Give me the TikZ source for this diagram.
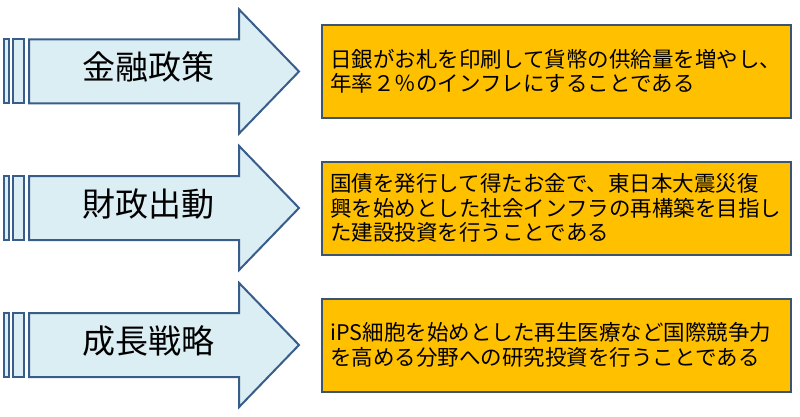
\documentclass[tikz,border=0pt]{standalone}
\usepackage{fontspec}
\newfontfamily\jp{Noto Sans CJK JP}
\usetikzlibrary{shapes.arrows, positioning}
\definecolor{shaftfill}{RGB}{219,238,244}
\definecolor{shaftline}{RGB}{56,93,138}
\definecolor{notefill}{RGB}{255,192,0}
\definecolor{noteline}{RGB}{60,84,112}
\tikzstyle{bigarrow} = [single arrow, 
			draw = shaftline, 
			fill = shaftfill, 
			line width = 2pt, 
			minimum height = 270pt, 
			single arrow head extend = 30pt, 
			single arrow tip angle = 92, 
			text height = 24pt, text depth = 8pt, 
			inner ysep = 15pt, 
			font = \jp\fontsize{33pt}{36pt}\selectfont]
\tikzstyle{stripe} = [rectangle, 
			draw = shaftline, 
			fill = shaftfill, 
			line width = 2pt, 
			inner sep = 0pt, 
			minimum height = 64pt]
\tikzstyle{note} = [rectangle, 
			draw = noteline, 
			fill = notefill, 
			line width = 2pt, 
			minimum width = 469pt, 
			minimum height = 93pt, 
			inner xsep = 7pt, 
			text width = 453pt, 
			align = left, 
			font = \jp\fontsize{21.5pt}{24.5pt}\selectfont]

\begin{document}
\begin{tikzpicture}[x=1pt, y=1pt]
	\useasboundingbox (0,0) rectangle (800,-417);
	\node [bigarrow, anchor=tail] (monetary) at (28,-71.5) {金融政策};
	\node [stripe, minimum width=11pt, left=3pt of monetary.tail] (monetary-s2) {};
	\node [stripe, minimum width=5pt, left=2.5pt of monetary-s2] (monetary-s1) {};
	\node [note, right=21pt of monetary.tip] (monetary-note) {日銀がお札を印刷して貨幣の供給量を増やし、\\年率２％のインフレにすることである};
	\node [bigarrow, anchor=tail] (fiscal) at (28,-208) {財政出動};
	\node [stripe, minimum width=11pt, left=3pt of fiscal.tail] (fiscal-s2) {};
	\node [stripe, minimum width=5pt, left=2.5pt of fiscal-s2] (fiscal-s1) {};
	\node [note, right=21pt of fiscal.tip] (fiscal-note) {国債を発行して得たお金で、東日本大震災復\\興を始めとした社会インフラの再構築を目指し\\た建設投資を行うことである};
	\node [bigarrow, anchor=tail] (growth) at (28,-345) {成長戦略};
	\node [stripe, minimum width=11pt, left=3pt of growth.tail] (growth-s2) {};
	\node [stripe, minimum width=5pt, left=2.5pt of growth-s2] (growth-s1) {};
	\node [note, right=21pt of growth.tip] (growth-note) {iPS細胞を始めとした再生医療など国際競争力\\を高める分野への研究投資を行うことである};
\end{tikzpicture}
\end{document}
